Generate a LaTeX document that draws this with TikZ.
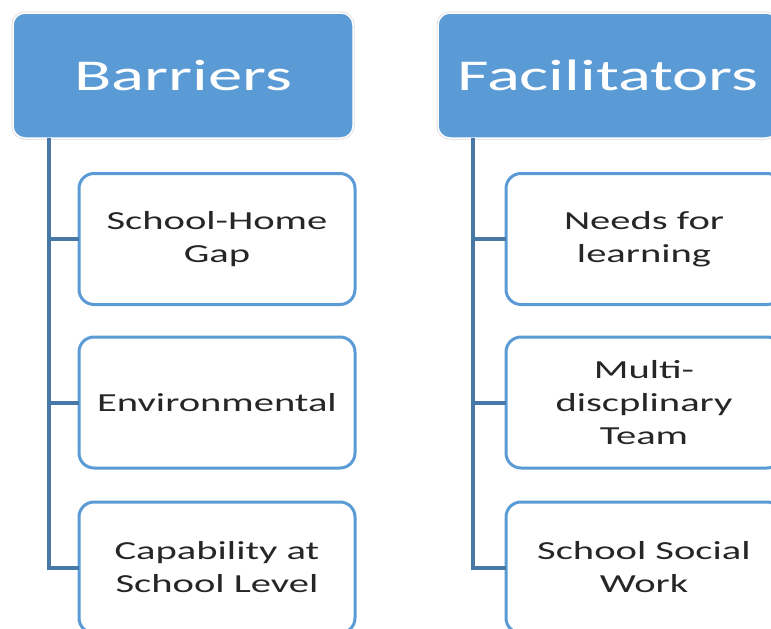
\documentclass[tikz,border=0pt]{standalone}
\usepackage{fontspec}
\setmainfont{Carlito}[FakeStretch=1.56]
\definecolor{hdrblue}{HTML}{5B9BD5}
\definecolor{linkblue}{HTML}{4878A8}
\definecolor{txtgray}{HTML}{262626}
\definecolor{hdredge}{HTML}{D9D9D9}
\tikzset{
  header/.style={draw=white, line width=1.5pt, fill=hdrblue, rounded corners=12pt,
    minimum width=340pt, minimum height=125pt, inner sep=0pt, outer sep=0pt,
    text=white, font=\fontsize{44}{53}\selectfont,
    preaction={draw=hdredge, line width=3pt}},
  child/.style={draw=hdrblue, line width=3pt, fill=white, rounded corners=15pt,
    minimum width=276pt, minimum height=131pt, inner sep=0pt, outer sep=0pt,
    text=txtgray, align=center, font=\fontsize{26}{33}\selectfont},
  link/.style={draw=linkblue, line width=4pt}
}
\begin{document}
\begin{tikzpicture}[x=1pt,y=-1pt]
\useasboundingbox (0,0) rectangle (771,629);
\clip (0,0) rectangle (771,629);
% headers
\node[header] (B) at (183,75.5) {Barriers};
\node[header] (F) at (608,75.5) {Facilitators};
% trunk coordinates
\coordinate (bt) at (49,138);
\coordinate (ft) at (473,138);
% children left
\node[child] (b1) at (217,239) {School-Home\\Gap};
\node[child] (b2) at (217,402.5) {Environmental};
\node[child] (b3) at (217,567.5) {Capability at\\School Level};
% children right
\node[child] (f1) at (644,239) {Needs for\\learning};
\node[child] (f2) at (644,402.5) {Multi-\\discplinary\\Team};
\node[child] (f3) at (644,567.5) {School Social\\Work};
% connectors
\draw[link] (bt) |- (b3.west);
\draw[link] (bt |- b1.west) -- (b1.west);
\draw[link] (bt |- b2.west) -- (b2.west);
\draw[link] (ft) |- (f3.west);
\draw[link] (ft |- f1.west) -- (f1.west);
\draw[link] (ft |- f2.west) -- (f2.west);
\end{tikzpicture}
\end{document}
